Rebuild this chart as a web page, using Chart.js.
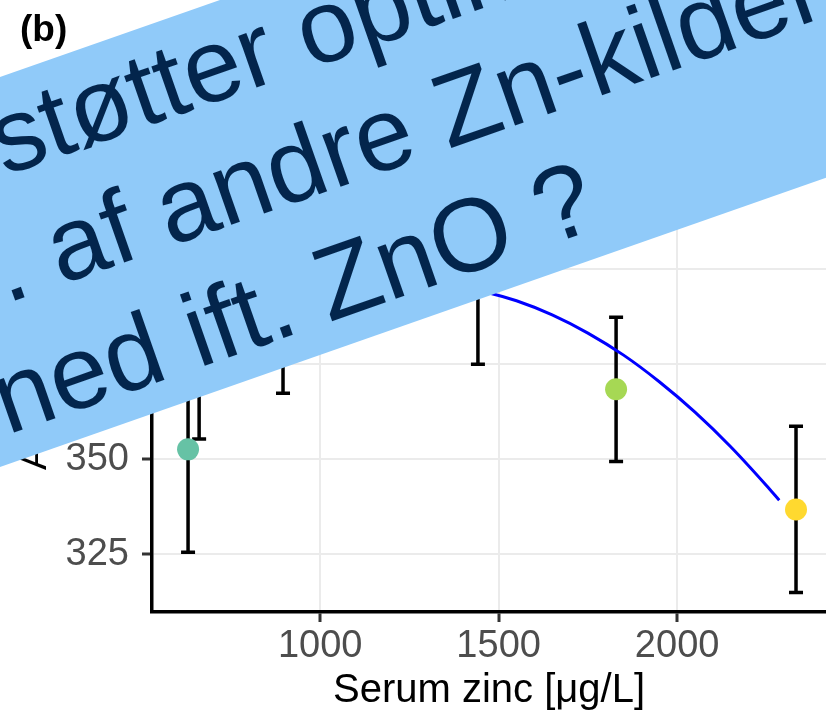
<!DOCTYPE html>
<html>
<head>
<meta charset="utf-8">
<script src="https://cdn.jsdelivr.net/npm/chart.js@4.4.1/dist/chart.umd.min.js"></script>
<style>
  html, body { margin: 0; padding: 0; background: #ffffff; overflow: hidden; }
  #wrap { width: 826px; height: 723px; }
</style>
</head>
<body>
<div id="wrap"><canvas id="c" width="826" height="723"></canvas></div>
<script>
// Group means (serum zinc vs. response) with standard errors
const zincLevels    = [630, 661, 896, 1442, 1829, 2333];
const responseMeans = [352.6, 380.5, 390.5, 398.0, 368.4, 336.8];
const responseSE    = [27.1, 25.2, 23.1, 23.0, 19.0, 21.9];
const groupColors   = ['#66C2A5', '#FC8D62', '#8DA0CB', '#E78AC3', '#A6D854', '#FFD92F'];

// Fitted response curve, sampled along serum zinc
const curveZinc     = [640, 750, 850, 950, 1050, 1150, 1262, 1370, 1476, 1550, 1650, 1750, 1850, 1950, 2050, 2150, 2250, 2286];
const curveResponse = [375.2, 381.9, 387.0, 390.9, 393.8, 395.5, 396.2, 395.6, 393.7, 391.7, 388.0, 383.2, 377.4, 370.4, 362.4, 353.3, 343.1, 339.2];

// Axis ticks
const xTicks = [1000, 1500, 2000];
const yTicks = [325, 350, 375, 400, 425, 450];

// Texts
const tagText = '(b)';
const xTitle = 'Serum zinc [\u03BCg/L]';
const yTitle = 'ADG [g/day]';
const bannerLines = ['støtter optimalt', '. af andre Zn-kilder', 'ned ift. ZnO ?'];

const FONT = '"Liberation Sans", Arial, Helvetica, sans-serif';

// Vertical error bars (mean ± SE) drawn beneath the points
const errorBars = {
  id: 'errorBars',
  beforeDatasetsDraw(chart) {
    const { ctx, chartArea, scales: { x, y } } = chart;
    ctx.save();
    ctx.beginPath();
    ctx.rect(chartArea.left, chartArea.top, chartArea.right - chartArea.left, chartArea.bottom - chartArea.top);
    ctx.clip();
    ctx.strokeStyle = '#000000';
    ctx.lineWidth = 3.5;
    ctx.lineCap = 'butt';
    const half = 7;
    zincLevels.forEach((z, i) => {
      const px = x.getPixelForValue(z);
      const top = y.getPixelForValue(responseMeans[i] + responseSE[i]);
      const bot = y.getPixelForValue(responseMeans[i] - responseSE[i]);
      ctx.beginPath();
      ctx.moveTo(px, top); ctx.lineTo(px, bot);
      ctx.moveTo(px - half, top); ctx.lineTo(px + half, top);
      ctx.moveTo(px - half, bot); ctx.lineTo(px + half, bot);
      ctx.stroke();
    });
    ctx.restore();
  }
};

// Panel tag and y-axis title
const annotations = {
  id: 'annotations',
  afterDraw(chart) {
    const ctx = chart.ctx;
    ctx.save();
    ctx.fillStyle = '#000000';
    ctx.font = 'bold 37px ' + FONT;
    ctx.textBaseline = 'alphabetic';
    ctx.textAlign = 'left';
    ctx.fillText(tagText, 20, 41);

    ctx.translate(46, 470);
    ctx.rotate(-Math.PI / 2);
    ctx.font = '38px ' + FONT;
    ctx.fillText(yTitle, 0, 0);
    ctx.restore();
  }
};

// Tilted light-blue banner with its caption
const banner = {
  id: 'banner',
  afterDraw(chart) {
    const ctx = chart.ctx;
    ctx.save();
    ctx.rotate(-19.3 * Math.PI / 180);
    ctx.fillStyle = '#90CAF9';
    ctx.fillRect(-400, 72.7, 1800, 368);
    ctx.fillStyle = '#03254C';
    ctx.font = '104px ' + FONT;
    ctx.textAlign = 'left';
    ctx.textBaseline = 'alphabetic';
    ctx.fillText(bannerLines[0], -54, 167.5);
    ctx.fillText(bannerLines[1], -94.5, 288.8);
    ctx.fillText(bannerLines[2], -137, 412.9);
    ctx.restore();
  }
};

const gridStyle = {
  color: '#EBEBEB',
  lineWidth: 2,
  tickLength: 10,
  tickColor: '#333333',
  tickWidth: 3
};

// Fix the axis box sizes so the plot area spans x 152..826, y 50..612
function fitX(s) {
  s.height = 111;
  s.paddingLeft = 0; s.paddingRight = 0;
}
function fitY(s) {
  s.width = 152;
  s.paddingTop = 0; s.paddingBottom = 0;
}

new Chart(document.getElementById('c'), {
  data: {
    datasets: [
      {
        type: 'scatter',
        data: zincLevels.map((z, i) => ({ x: z, y: responseMeans[i] })),
        pointRadius: 11,
        pointHoverRadius: 11,
        pointBackgroundColor: groupColors,
        pointBorderWidth: 0,
        order: 0
      },
      {
        type: 'line',
        data: curveZinc.map((z, i) => ({ x: z, y: curveResponse[i] })),
        borderColor: '#0000FF',
        borderWidth: 3,
        pointRadius: 0,
        cubicInterpolationMode: 'monotone',
        fill: false,
        order: 1
      }
    ]
  },
  options: {
    responsive: false,
    devicePixelRatio: 1,
    animation: false,
    layout: { autoPadding: false, padding: { top: 50, right: 0, bottom: 0, left: 0 } },
    plugins: { legend: { display: false }, tooltip: { enabled: false } },
    scales: {
      x: {
        type: 'linear',
        min: 529,
        max: 2417,
        afterBuildTicks: s => { s.ticks = xTicks.map(v => ({ value: v })); },
        afterFit: fitX,
        grid: gridStyle,
        border: { color: '#000000', width: 3.5 },
        ticks: {
          color: '#4D4D4D',
          font: { size: 38, family: FONT },
          padding: 2,
          maxRotation: 0,
          autoSkip: false,
          callback: v => String(v)
        },
        title: {
          display: true,
          text: xTitle,
          color: '#000000',
          font: { size: 40, family: FONT },
          padding: { top: 0, bottom: 8 }
        }
      },
      y: {
        type: 'linear',
        min: 309.8,
        max: 457.7,
        afterBuildTicks: s => { s.ticks = yTicks.map(v => ({ value: v })); },
        afterFit: fitY,
        grid: gridStyle,
        border: { color: '#000000', width: 3.5 },
        ticks: {
          color: '#4D4D4D',
          font: { size: 38, family: FONT },
          padding: 13,
          autoSkip: false,
          callback: v => String(v)
        }
      }
    }
  },
  plugins: [errorBars, annotations, banner]
});
</script>
</body>
</html>
